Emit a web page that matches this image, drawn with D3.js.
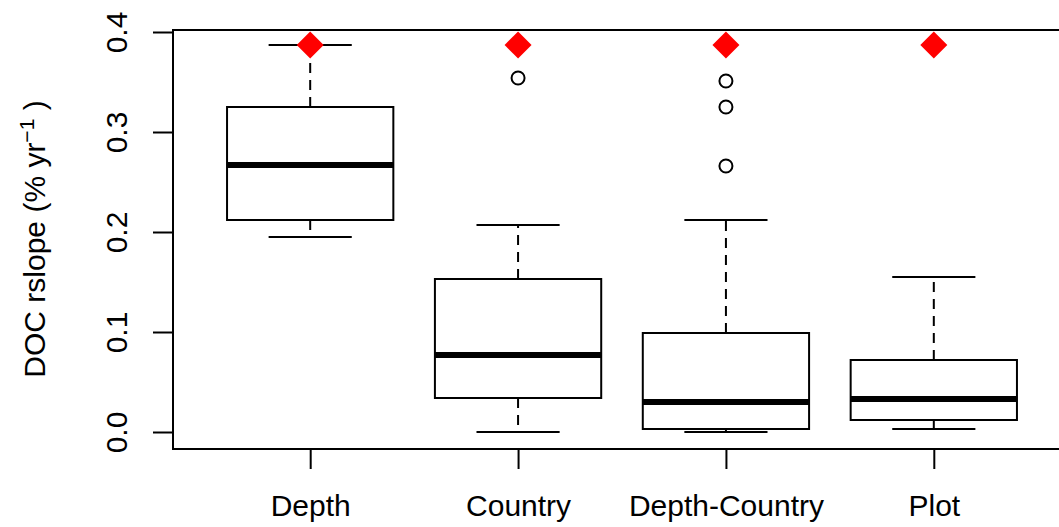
<!DOCTYPE html>
<html>
<head>
<meta charset="utf-8">
<script src="https://cdn.jsdelivr.net/npm/d3@7"></script>
<style>
  body { margin: 0; background: #fff; }
  text { font-family: "Liberation Sans", Arial, sans-serif; }
</style>
</head>
<body>
<div id="chart"></div>
<script>
// values
let groups = ["Depth", "Country", "Depth-Country", "Plot"];
let whiskLow = [0.195, 0.000, 0.000, 0.003];
let q1 = [0.212, 0.034, 0.003, 0.012];
let med = [0.267, 0.077, 0.030, 0.033];
let q3 = [0.325, 0.153, 0.099, 0.072];
let whiskHigh = [0.387, 0.207, 0.212, 0.155];
let outliers = [[], [0.354], [0.351, 0.325, 0.266], []];
let redPoint = [0.387, 0.387, 0.387, 0.387];
let yTicks = [0.0, 0.1, 0.2, 0.3, 0.4];

var W = 1059, H = 527;
var svg = d3.select("#chart").append("svg").attr("width", W).attr("height", H);

// R style: xlim 0.5..n+0.5 padded 4%
var x = d3.scaleLinear().domain([0.34, 4.66]).range([173, 1071]);
var y = d3.scaleLinear().domain([-0.017, 0.402]).range([449, 30]);

// frame
svg.append("rect")
  .attr("x", x(0.34)).attr("y", y(0.402))
  .attr("width", x(4.66) - x(0.34)).attr("height", y(-0.017) - y(0.402))
  .attr("fill", "none").attr("stroke", "#000").attr("stroke-width", 2);

// y axis
var yAxis = svg.append("g").attr("transform", "translate(173,0)")
  .call(d3.axisLeft(y).tickValues(yTicks).tickSize(20).tickFormat(d3.format(".1f")));
yAxis.select(".domain").remove();
yAxis.selectAll("line").attr("stroke-width", 2);
yAxis.selectAll("text")
  .attr("x", 0).attr("y", -46).attr("dy", 0)
  .attr("transform", "rotate(-90)")
  .attr("text-anchor", "middle")
  .style("font-size", "30px").style("font-family", "'Liberation Sans', Arial, sans-serif")
  .attr("fill", "#000");

// x axis
var xAxis = svg.append("g").attr("transform", "translate(0,449)")
  .call(d3.axisBottom(x).tickValues([1, 2, 3, 4]).tickSize(20).tickFormat((d, i) => groups[i]));
xAxis.select(".domain").remove();
xAxis.selectAll("line").attr("stroke-width", 2);
xAxis.selectAll("text")
  .attr("y", 67).attr("dy", 0)
  .style("font-size", "30px").style("font-family", "'Liberation Sans', Arial, sans-serif")
  .attr("fill", "#000");

// y label
var lab = svg.append("text")
  .attr("transform", "translate(45,239) rotate(-90)")
  .attr("text-anchor", "middle")
  .style("font-size", "30px");
lab.append("tspan").text("DOC rslope (% yr");
lab.append("tspan").attr("dy", "-11").style("font-size", "21px").text("\u22121");
lab.append("tspan").attr("dy", "11").text(" )");

// boxes
var box = svg.append("g").selectAll("g").data(groups).join("g");

box.append("line")
  .attr("x1", (d, i) => x(i + 1)).attr("x2", (d, i) => x(i + 1))
  .attr("y1", (d, i) => y(q3[i])).attr("y2", (d, i) => y(whiskHigh[i]))
  .attr("stroke", "#000").attr("stroke-width", 2).attr("stroke-dasharray", "10,7");
box.append("line")
  .attr("x1", (d, i) => x(i + 1)).attr("x2", (d, i) => x(i + 1))
  .attr("y1", (d, i) => y(q1[i])).attr("y2", (d, i) => y(whiskLow[i]))
  .attr("stroke", "#000").attr("stroke-width", 2).attr("stroke-dasharray", "10,7");

[whiskHigh, whiskLow].forEach(function(arr) {
  box.append("line")
    .attr("x1", (d, i) => x(i + 0.8)).attr("x2", (d, i) => x(i + 1.2))
    .attr("y1", (d, i) => y(arr[i])).attr("y2", (d, i) => y(arr[i]))
    .attr("stroke", "#000").attr("stroke-width", 2);
});

box.append("rect")
  .attr("x", (d, i) => x(i + 0.6))
  .attr("width", x(1.4) - x(0.6))
  .attr("y", (d, i) => y(q3[i]))
  .attr("height", (d, i) => y(q1[i]) - y(q3[i]))
  .attr("fill", "#fff").attr("stroke", "#000").attr("stroke-width", 2);

box.append("line")
  .attr("x1", (d, i) => x(i + 0.6)).attr("x2", (d, i) => x(i + 1.4))
  .attr("y1", (d, i) => y(med[i])).attr("y2", (d, i) => y(med[i]))
  .attr("stroke", "#000").attr("stroke-width", 6);

// outliers
box.each(function(d, i) {
  d3.select(this).selectAll("circle").data(outliers[i]).join("circle")
    .attr("cx", x(i + 1)).attr("cy", v => y(v)).attr("r", 6.5)
    .attr("fill", "none").attr("stroke", "#000").attr("stroke-width", 2);
});

// red diamonds
box.append("path")
  .attr("d", (d, i) => {
    var cx = x(i + 1), cy = y(redPoint[i]), s = 13.5;
    return "M" + cx + "," + (cy - s) + "L" + (cx + s) + "," + cy + "L" + cx + "," + (cy + s) + "L" + (cx - s) + "," + cy + "Z";
  })
  .attr("fill", "#ff0000");
</script>
</body>
</html>
